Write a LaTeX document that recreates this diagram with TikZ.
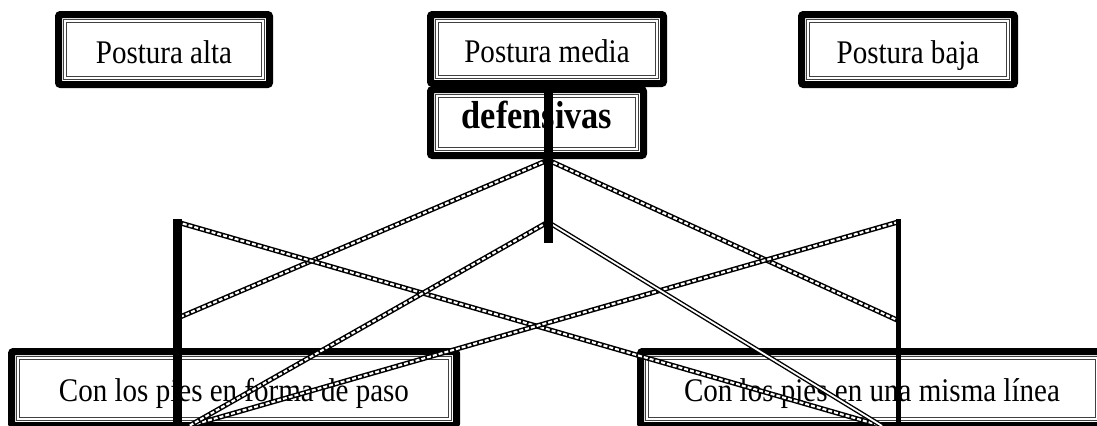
\documentclass[tikz,border=0pt]{standalone}
\usepackage{fontspec}
\setmainfont{Liberation Serif}[FakeStretch=0.88]

\tikzset{
  frame/.style={draw=black,line width=3.5pt,rounded corners=1pt,fill=white,inner sep=0pt,
    font=\fontsize{16.5}{19}\selectfont,text height=13.5pt,text depth=0pt,
    path picture={\draw[black!75,line width=0.45pt,double=white,double distance=0.9pt,sharp corners]
      ([shift={(3.25pt,-3.25pt)}]path picture bounding box.north west) rectangle
      ([shift={(-3.25pt,3.25pt)}]path picture bounding box.south east);}},
  chainline/.style={draw=black,line width=2.5pt,
    postaction={draw=white,line width=1.05pt,dash pattern=on 2pt off 1pt}},
  twinline/.style={draw=black,line width=0.7pt,double=white,double distance=0.9pt},
  post/.style={draw=black,line width=#1}
}

\begin{document}
\begin{tikzpicture}[x=0.5pt,y=-0.5pt]
            \useasboundingbox(0,0)rectangle(1097,425);
            \clip(0,0)rectangle(1097,425);
            % Boxes
            \node[frame,minimum width=106.5pt,minimum height=33pt,font=\fontsize{19.5}{23}\selectfont\bfseries,text height=13pt,text depth=7pt](defensivas)at(537,122.5){defensivas};
            \node[frame,minimum width=116.5pt,minimum height=34.5pt](media)at(547,49){Postura media};
            \node[frame,minimum width=105.5pt,minimum height=35pt](alta)at(164,49.5){Postura alta};
            \node[frame,minimum width=106.5pt,minimum height=35pt](baja)at(908,49.5){Postura baja};
            \node[frame,minimum width=222.5pt,minimum height=37pt,text height=12.5pt](paso)at(234,388.5){Con los pies en forma de paso};
            \node[frame,minimum width=231.5pt,minimum height=37pt,text height=12.5pt](linea)at(872,388.5){Con los pies en una misma línea};
            % Joints
            \coordinate(vtop)at(548,80);
            \coordinate(vbot)at(548,243);
            \coordinate(hub)at(548,160);
            \coordinate(apex)at(548,222);
            \coordinate(ltop)at(177,222);
            \coordinate(lbot)at(177,432);
            \coordinate(lmid)at(180,317);
            \coordinate(rtop)at(898,222);
            \coordinate(rbot)at(898,432);
            \coordinate(rmid)at(897,320);
            \coordinate(lfoot)at(189,426);
            \coordinate(rfoot)at(882,426);
            % Crossing links
            \draw[chainline](hub)--(lmid);
            \draw[chainline](hub)--(rmid);
            \draw[chainline](ltop)--(rfoot);
            \draw[chainline](rtop)--(lfoot);
            \draw[chainline](apex)--(lfoot);
            \draw[twinline](apex)--(rfoot);
            % Posts
            \draw[post=4.5pt](vtop)--(vbot);
            \draw[post=4.5pt]([yshift=1.5pt]ltop)--(lbot);
            \draw[post=2.5pt]([yshift=1.5pt]rtop)--(rbot);
        \end{tikzpicture}
\end{document}
